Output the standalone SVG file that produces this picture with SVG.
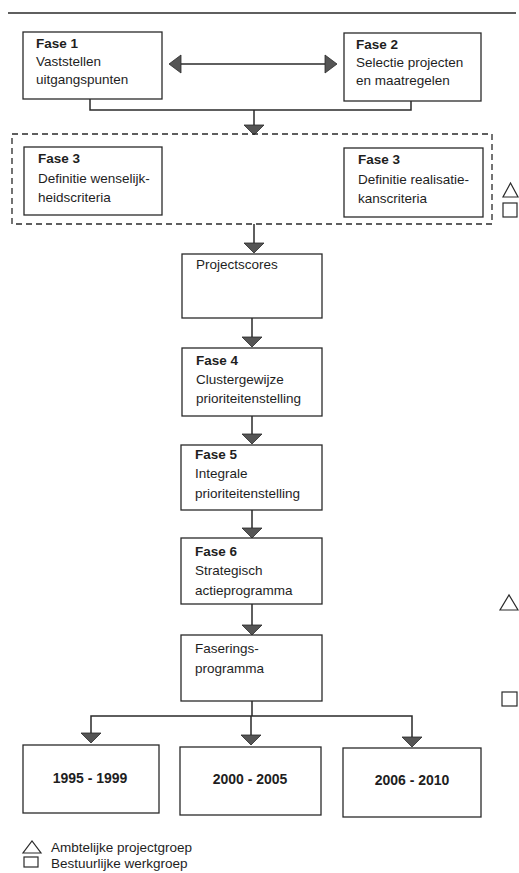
<svg xmlns="http://www.w3.org/2000/svg" width="519" height="873" viewBox="0 0 519 873">
<style>
  .box { fill: #fff; stroke: #2a2a2a; stroke-width: 1.3; }
  .dash { fill: none; stroke: #2a2a2a; stroke-width: 1.3; stroke-dasharray: 6 4; }
  .ln { fill: none; stroke: #2a2a2a; stroke-width: 1.5; }
  .head { fill: #555; stroke: #2a2a2a; stroke-width: 0.8; }
  .sym { fill: none; stroke: #2a2a2a; stroke-width: 1.2; }
  text { font-family: "Liberation Sans", Arial, sans-serif; font-size: 13.5px; fill: #1e1e1e; }
  .b { font-weight: bold; }
  .yr { font-weight: bold; font-size: 14px; text-anchor: middle; }
</style>
<defs>
  <polygon id="down" class="head" points="-10,-10 10,-10 0,0"/>
</defs>
<rect width="519" height="873" fill="#fff"/>
<line x1="8" y1="13" x2="516" y2="13" class="ln" stroke-width="1.8"/>

<g id="connectors">
  <line x1="181" y1="64" x2="325" y2="64" class="ln" stroke-width="2"/>
  <polygon class="head" points="169,64 181,55 181,73"/>
  <polygon class="head" points="337,64 325,55 325,73"/>
  <path class="ln" d="M90 99 V110 H411 V101"/>
  <line x1="254" y1="110" x2="254" y2="126" class="ln"/>
  <use href="#down" x="254" y="135"/>
  <line x1="254" y1="224" x2="254" y2="243" class="ln"/>
  <use href="#down" x="254" y="253"/>
  <line x1="252" y1="318" x2="252" y2="338" class="ln"/>
  <use href="#down" x="252" y="347"/>
  <line x1="252" y1="416" x2="252" y2="435" class="ln"/>
  <use href="#down" x="252" y="444"/>
  <line x1="252" y1="510" x2="252" y2="529" class="ln"/>
  <use href="#down" x="252" y="538"/>
  <line x1="252" y1="604" x2="252" y2="626" class="ln"/>
  <use href="#down" x="252" y="635"/>
  <path class="ln" d="M252 701 V716 M91 734 V716 H412 V738 M251 716 V736"/>
  <use href="#down" x="91" y="743"/>
  <use href="#down" x="251" y="745"/>
  <use href="#down" x="412" y="747"/>
</g>

<g id="fase1">
  <rect class="box" x="23" y="32" width="139" height="67"/>
  <text x="36" y="48" class="b">Fase 1</text>
  <text x="36" y="66">Vaststellen</text>
  <text x="36" y="84">uitgangspunten</text>
</g>
<g id="fase2">
  <rect class="box" x="344" y="33" width="137" height="68"/>
  <text x="356" y="49" class="b">Fase 2</text>
  <text x="356" y="67">Selectie projecten</text>
  <text x="356" y="85">en maatregelen</text>
</g>
<g id="fase3group">
  <rect class="dash" x="12" y="134" width="480" height="90"/>
</g>
<g id="fase3a">
  <rect class="box" x="24" y="147" width="138" height="68"/>
  <text x="38" y="163" class="b">Fase 3</text>
  <text x="38" y="183">Definitie wenselijk-</text>
  <text x="38" y="202">heidscriteria</text>
</g>
<g id="fase3b">
  <rect class="box" x="344" y="148" width="139" height="69"/>
  <text x="358" y="164" class="b">Fase 3</text>
  <text x="358" y="184">Definitie realisatie-</text>
  <text x="358" y="203">kanscriteria</text>
</g>
<g id="legend-top">
  <polygon class="sym" points="503,197 518,197 510.5,183"/>
  <rect class="sym" x="503" y="203" width="14" height="14"/>
</g>
<g id="projectscores">
  <rect class="box" x="182" y="254" width="140" height="64"/>
  <text x="196" y="269">Projectscores</text>
</g>
<g id="fase4">
  <rect class="box" x="182" y="348" width="140" height="68"/>
  <text x="196" y="365" class="b">Fase 4</text>
  <text x="196" y="384">Clustergewijze</text>
  <text x="196" y="403">prioriteitenstelling</text>
</g>
<g id="fase5">
  <rect class="box" x="181" y="445" width="141" height="65"/>
  <text x="195" y="459" class="b">Fase 5</text>
  <text x="195" y="478">Integrale</text>
  <text x="195" y="498">prioriteitenstelling</text>
</g>
<g id="fase6">
  <rect class="box" x="181" y="538" width="141" height="66"/>
  <text x="195" y="556" class="b">Fase 6</text>
  <text x="195" y="575">Strategisch</text>
  <text x="195" y="595">actieprogramma</text>
</g>
<g id="faseringsprogramma">
  <rect class="box" x="181" y="635" width="141" height="66"/>
  <text x="195" y="653">Faserings-</text>
  <text x="195" y="673">programma</text>
</g>
<g id="legend-mid">
  <polygon class="sym" points="500,610 518,610 509,595"/>
  <rect class="sym" x="502" y="692" width="15" height="14"/>
</g>
<g id="p1995">
  <rect class="box" x="23" y="745" width="136" height="68"/>
  <text x="90" y="783" class="yr">1995 - 1999</text>
</g>
<g id="p2000">
  <rect class="box" x="180" y="747" width="141" height="68"/>
  <text x="250" y="784" class="yr">2000 - 2005</text>
</g>
<g id="p2006">
  <rect class="box" x="343" y="748" width="138" height="69"/>
  <text x="412" y="785" class="yr">2006 - 2010</text>
</g>
<g id="legend">
  <polygon class="sym" points="23,853 41,853 32,841"/>
  <text x="51" y="852">Ambtelijke projectgroep</text>
  <rect class="sym" x="24" y="857" width="14" height="10"/>
  <text x="51" y="868">Bestuurlijke werkgroep</text>
</g>
</svg>
